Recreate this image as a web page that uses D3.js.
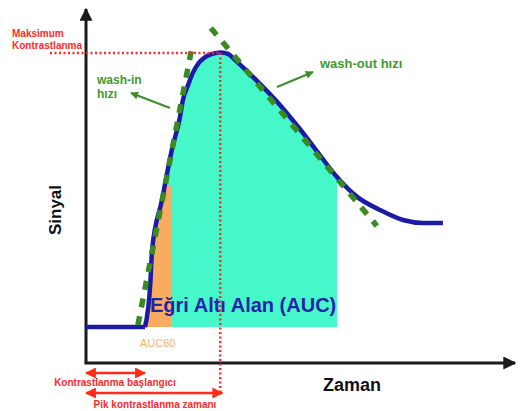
<!DOCTYPE html>
<html><head><meta charset="utf-8">
<script src="https://cdnjs.cloudflare.com/ajax/libs/d3/7.8.5/d3.min.js"></script>
<style>html,body{margin:0;padding:0;background:#fff;}svg{display:block;font-family:"Liberation Sans",Arial,sans-serif;}</style>
</head><body>
<script>
// ---- data (time units, signal units) ----
const baselineSignal = 12.1;
const onsetTime = 13.75;
const curveTimes  = [13.75, 15.0, 15.4, 17.7, 20.0, 21.9, 22.6, 23.8, 24.9, 26.1, 27.5, 29.4, 31.5, 33.1, 34.7, 37.5, 40.6, 45.2, 49.9, 54.5, 58.5, 63.2, 68.5, 73.9, 78.6, 83.2];
const curveSignal = [12.1, 27.0, 38.1, 54.9, 71.8, 82.9, 88.7, 93.7, 97.8, 100.8, 102.8, 104.2, 104.7, 104.2, 102.2, 98.4, 94.0, 87.0, 78.8, 70.1, 62.7, 56.0, 51.6, 48.2, 47.2, 47.2];
const peakTime = 31.3;
const peakSignal = 104.5;
const aucEndTime = 58.5;
const auc60EndTime = 19.8;
const auc60TopSignal = 60;
const washInLine  = {t: [12.1, 24.9], v: [12.8, 107.9]};
const washOutLine = {t: [29.1, 67.8], v: [112.9, 46.2]};
const labels = {
  yAxis: "Sinyal", xAxis: "Zaman", auc: "Eğri Altı Alan (AUC)", auc60: "AUC60",
  max1: "Maksimum", max2: "Kontrastlanma", washIn1: "wash-in", washIn2: "hızı",
  washOut: "wash-out hızı", onset: "Kontrastlanma başlangıcı", peak: "Pik kontrastlanma zamanı"
};

const W = 521, H = 411;
const x = d3.scaleLinear().domain([0, 100]).range([86, 515]);
const y = d3.scaleLinear().domain([0, 120]).range([363, 7]);

const svg = d3.select("body").append("svg").attr("width", W).attr("height", H);
const defs = svg.append("defs");
function marker(id, color, size) {
  defs.append("marker").attr("id", id).attr("viewBox", "0 0 10 10").attr("refX", 9).attr("refY", 5)
    .attr("markerWidth", size).attr("markerHeight", size).attr("orient", "auto-start-reverse")
    .attr("markerUnits", "userSpaceOnUse")
    .append("path").attr("d", "M0,0 L10,5 L0,10 Z").attr("fill", color);
}
marker("arrBlack", "#1a1a1a", 13);
marker("arrRed", "#ff2a1a", 11);
marker("arrGreen", "#3a8f28", 8);

const pts = curveTimes.map((t, i) => [t, curveSignal[i]]);
const curveGen = d3.curveMonotoneX;

// clip paths
defs.append("clipPath").attr("id", "clipAuc").append("rect")
  .attr("x", x(onsetTime)).attr("y", 0).attr("width", x(aucEndTime) - x(onsetTime)).attr("height", H);
defs.append("clipPath").attr("id", "clipAuc60").append("rect")
  .attr("x", x(onsetTime) - 2).attr("y", y(auc60TopSignal))
  .attr("width", x(auc60EndTime) - x(onsetTime) + 2).attr("height", y(baselineSignal) - y(auc60TopSignal));

const area = d3.area().x(d => x(d[0])).y0(y(baselineSignal)).y1(d => y(d[1])).curve(curveGen);
svg.append("path").datum(pts).attr("d", area).attr("fill", "#46f7c9").attr("clip-path", "url(#clipAuc)");
svg.append("path").datum(pts).attr("d", area).attr("fill", "#f9ab5f").attr("clip-path", "url(#clipAuc60)");

// axes
svg.append("line").attr("x1", x(0)).attr("y1", y(0)).attr("x2", x(0)).attr("y2", y(120) + 2)
  .attr("stroke", "#1a1a1a").attr("stroke-width", 3).attr("marker-end", "url(#arrBlack)");
svg.append("line").attr("x1", x(0) - 1.5).attr("y1", y(0)).attr("x2", x(100)).attr("y2", y(0))
  .attr("stroke", "#1a1a1a").attr("stroke-width", 3).attr("marker-end", "url(#arrBlack)");

// signal curve
const line = d3.line().x(d => x(d[0])).y(d => y(d[1]));
svg.append("path").datum([[0, baselineSignal], [onsetTime, baselineSignal]]).attr("d", line)
  .attr("fill", "none").attr("stroke", "#1b1ba6").attr("stroke-width", 4.5);
svg.append("path").datum(pts).attr("d", line.curve(curveGen))
  .attr("fill", "none").attr("stroke", "#1b1ba6").attr("stroke-width", 4.5).attr("stroke-linejoin", "round");

// tangent lines
[washInLine, washOutLine].forEach(l => {
  svg.append("line").attr("x1", x(l.t[0])).attr("y1", y(l.v[0])).attr("x2", x(l.t[1])).attr("y2", y(l.v[1]))
    .attr("stroke", "#3a8a22").attr("stroke-width", 5.5).attr("stroke-dasharray", "9,9");
});

// AUC text
svg.append("text").attr("x", x(onsetTime) + 5).attr("y", 312).text(labels.auc)
  .attr("font-size", 20).attr("font-weight", "bold").attr("fill", "#2424a8");
svg.append("text").attr("x", 140).attr("y", 347).text(labels.auc60)
  .attr("font-size", 11).attr("fill", "#f9b36a");

// red dotted guides
svg.append("line").attr("x1", 50).attr("y1", y(peakSignal)).attr("x2", x(peakTime)).attr("y2", y(peakSignal))
  .attr("stroke", "#ff2a2a").attr("stroke-width", 2.5).attr("stroke-dasharray", "2,2.5");
svg.append("line").attr("x1", x(peakTime)).attr("y1", y(peakSignal)).attr("x2", x(peakTime)).attr("y2", 394)
  .attr("stroke", "#ff2a2a").attr("stroke-width", 2.5).attr("stroke-dasharray", "2,2.5");

// red double arrows
svg.append("line").attr("x1", x(0)).attr("y1", 373).attr("x2", x(onsetTime)).attr("y2", 373)
  .attr("stroke", "#ff2a1a").attr("stroke-width", 2.5)
  .attr("marker-start", "url(#arrRed)").attr("marker-end", "url(#arrRed)");
svg.append("line").attr("x1", x(0)).attr("y1", 393).attr("x2", x(peakTime) + 2).attr("y2", 393)
  .attr("stroke", "#ff2a1a").attr("stroke-width", 2.5)
  .attr("marker-start", "url(#arrRed)").attr("marker-end", "url(#arrRed)");

const red = "#ff2a2a";
svg.append("text").attr("x", 12).attr("y", 37).text(labels.max1).attr("font-size", 10).attr("font-weight", "bold").attr("fill", red);
svg.append("text").attr("x", 12).attr("y", 49).text(labels.max2).attr("font-size", 10).attr("font-weight", "bold").attr("fill", red);
svg.append("text").attr("x", 115).attr("y", 386).attr("text-anchor", "middle").text(labels.onset).attr("font-size", 10).attr("font-weight", "bold").attr("fill", red);
svg.append("text").attr("x", 155).attr("y", 408).attr("text-anchor", "middle").text(labels.peak).attr("font-size", 10).attr("font-weight", "bold").attr("fill", red);

// green labels + arrows
const green = "#3f9a2c";
svg.append("text").attr("x", 97).attr("y", 84).text(labels.washIn1).attr("font-size", 12).attr("font-weight", "bold").attr("fill", green);
svg.append("text").attr("x", 97).attr("y", 98).text(labels.washIn2).attr("font-size", 12).attr("font-weight", "bold").attr("fill", green);
svg.append("text").attr("x", 320).attr("y", 68).text(labels.washOut).attr("font-size", 13).attr("font-weight", "bold").attr("fill", green);
svg.append("line").attr("x1", 170).attr("y1", 108).attr("x2", 131).attr("y2", 93)
  .attr("stroke", "#3a8f28").attr("stroke-width", 2).attr("marker-end", "url(#arrGreen)");
svg.append("line").attr("x1", 277).attr("y1", 87).attr("x2", 313).attr("y2", 72)
  .attr("stroke", "#3a8f28").attr("stroke-width", 2).attr("marker-end", "url(#arrGreen)");

// axis titles
svg.append("text").attr("transform", "translate(61,210) rotate(-90)").attr("text-anchor", "middle")
  .text(labels.yAxis).attr("font-size", 17).attr("font-weight", "bold").attr("fill", "#111");
svg.append("text").attr("x", 323).attr("y", 391).text(labels.xAxis)
  .attr("font-size", 18).attr("font-weight", "bold").attr("fill", "#111");
</script>
</body></html>
